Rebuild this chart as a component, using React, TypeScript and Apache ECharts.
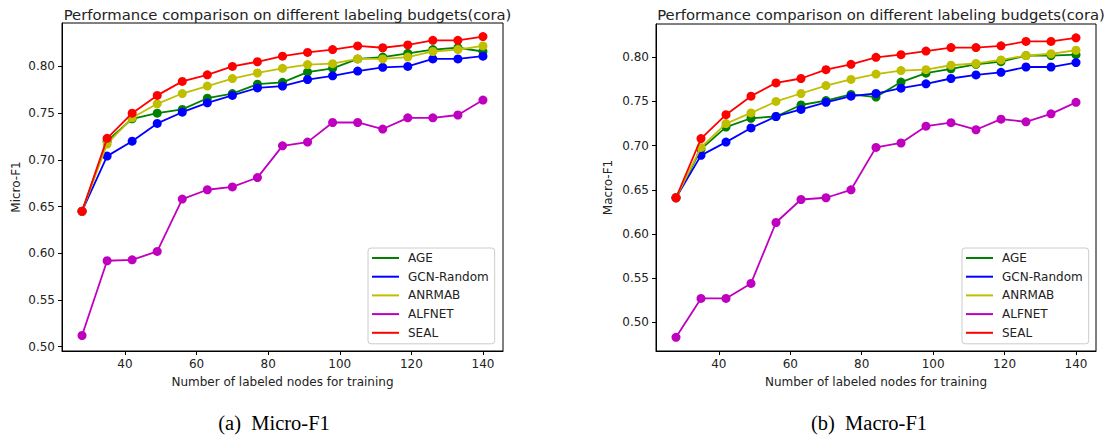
import React, { useEffect, useRef } from "react";
import * as echarts from "echarts";

const budgets = [28, 35, 42, 49, 56, 63, 70, 77, 84, 91, 98, 105, 112, 119, 126, 133, 140];
const seriesNames = ["AGE", "GCN-Random", "ANRMAB", "ALFNET", "SEAL"];
const seriesColors = ["#008000", "#0000ff", "#bfbf00", "#bf00bf", "#ff0000"];

const microAGE = [0.645, 0.720, 0.744, 0.750, 0.754, 0.766, 0.771, 0.781, 0.783, 0.794, 0.798, 0.808, 0.810, 0.814, 0.818, 0.820, 0.816];
const microGCN = [0.645, 0.704, 0.720, 0.739, 0.751, 0.761, 0.769, 0.777, 0.779, 0.786, 0.790, 0.795, 0.799, 0.800, 0.808, 0.808, 0.811];
const microANRMAB = [0.645, 0.717, 0.745, 0.760, 0.771, 0.779, 0.787, 0.793, 0.798, 0.802, 0.803, 0.808, 0.808, 0.810, 0.816, 0.818, 0.822];
const microALFNET = [0.512, 0.592, 0.593, 0.602, 0.658, 0.668, 0.671, 0.681, 0.715, 0.719, 0.740, 0.740, 0.733, 0.745, 0.745, 0.748, 0.764];
const microSEAL = [0.645, 0.723, 0.750, 0.769, 0.784, 0.791, 0.800, 0.805, 0.811, 0.815, 0.818, 0.822, 0.820, 0.823, 0.828, 0.828, 0.832];

const macroAGE = [0.641, 0.696, 0.721, 0.731, 0.733, 0.746, 0.751, 0.758, 0.755, 0.772, 0.782, 0.787, 0.792, 0.795, 0.802, 0.802, 0.803];
const macroGCN = [0.641, 0.689, 0.704, 0.720, 0.733, 0.741, 0.749, 0.756, 0.759, 0.765, 0.770, 0.776, 0.780, 0.783, 0.789, 0.789, 0.794];
const macroANRMAB = [0.641, 0.698, 0.725, 0.737, 0.750, 0.759, 0.768, 0.775, 0.781, 0.785, 0.786, 0.791, 0.793, 0.797, 0.802, 0.804, 0.808];
const macroALFNET = [0.483, 0.527, 0.527, 0.544, 0.613, 0.639, 0.641, 0.650, 0.698, 0.703, 0.722, 0.726, 0.718, 0.730, 0.727, 0.736, 0.749];
const macroSEAL = [0.641, 0.708, 0.735, 0.756, 0.771, 0.776, 0.786, 0.792, 0.800, 0.803, 0.807, 0.811, 0.811, 0.813, 0.818, 0.818, 0.822];

const xTicks = [40, 60, 80, 100, 120, 140];
const yTicks = [0.5, 0.55, 0.6, 0.65, 0.7, 0.75, 0.8];

const chartTitle = "Performance comparison on different labeling budgets(cora)";
const xName = "Number of labeled nodes for training";
const yNames = ["Micro-F1", "Macro-F1"];
const captions = ["(a)  Micro-F1", "(b)  Macro-F1"];

const FONT = "DejaVu Sans";

export default function App() {
  const ref = useRef<HTMLDivElement>(null);
  useEffect(() => {
    if (!ref.current) return;
    const chart = echarts.init(ref.current, null, { renderer: "svg" });
    const micro = [microAGE, microGCN, microANRMAB, microALFNET, microSEAL];
    const macro = [macroAGE, macroGCN, macroANRMAB, macroALFNET, macroSEAL];

    const grids = [
      { left: 62, top: 23, width: 441, height: 328 },
      { left: 656, top: 24, width: 440, height: 327 },
    ];
    const yRanges = [
      [0.4954, 0.8465],
      [0.4675, 0.8377],
    ];

    const xAxes = grids.map((_, i) => ({
      type: "value",
      gridIndex: i,
      min: 22.4,
      max: 145.6,
      name: xName,
      nameLocation: "middle",
      nameGap: 25,
      nameTextStyle: { fontFamily: FONT, fontSize: 12, color: "#222" },
      axisLine: { show: true, lineStyle: { color: "#000", width: 1 } },
      axisTick: { show: true, inside: false, length: 4, customValues: xTicks, lineStyle: { color: "#000" } },
      axisLabel: { customValues: xTicks, margin: 7, fontFamily: FONT, fontSize: 12, color: "#222" },
      splitLine: { show: false },
    }));
    const yAxes = grids.map((_, i) => ({
      type: "value",
      gridIndex: i,
      min: yRanges[i][0],
      max: yRanges[i][1],
      name: yNames[i],
      nameLocation: "middle",
      nameGap: i === 0 ? 40 : 42,
      nameTextStyle: { fontFamily: FONT, fontSize: 12, color: "#222" },
      axisLine: { show: true, lineStyle: { color: "#000", width: 1 } },
      axisTick: { show: true, inside: false, length: 4, customValues: yTicks, lineStyle: { color: "#000" } },
      axisLabel: {
        customValues: yTicks,
        margin: 7,
        fontFamily: FONT,
        fontSize: 12,
        color: "#222",
        formatter: (v: number) => v.toFixed(2),
      },
      splitLine: { show: false },
    }));

    const series: any[] = [];
    [micro, macro].forEach((group, gi) => {
      group.forEach((vals, si) => {
        series.push({
          type: "line",
          name: seriesNames[si],
          xAxisIndex: gi,
          yAxisIndex: gi,
          data: budgets.map((b, k) => [b, vals[k]]),
          symbol: "circle",
          symbolSize: 9,
          showSymbol: true,
          z: 2 + si,
          lineStyle: { color: seriesColors[si], width: 1.8 },
          itemStyle: { color: seriesColors[si] },
          emphasis: { disabled: true },
        });
      });
    });

    const legendBase = {
      orient: "vertical",
      top: 248,
      padding: [3, 6, 4, 4],
      itemGap: 4.7,
      itemWidth: 27,
      itemHeight: 2,
      icon: "rect",
      backgroundColor: "#fff",
      borderColor: "#ccc",
      borderWidth: 1,
      borderRadius: 3,
      selectedMode: false,
      data: seriesNames,
      textStyle: { fontFamily: FONT, fontSize: 12, color: "#222", lineHeight: 14, padding: [0, 0, 0, 4] },
    };

    const captionX = [274, 869];

    chart.setOption({
      animation: false,
      backgroundColor: "#fff",
      title: grids.map((g) => ({
        text: chartTitle,
        left: g.left + g.width / 2,
        textAlign: "center",
        top: 2,
        textStyle: { fontFamily: FONT, fontSize: 14.8, fontWeight: "normal", color: "#222" },
      })),
      grid: grids.map((g) => ({
        ...g,
        show: true,
        borderColor: "#000",
        borderWidth: 1,
        backgroundColor: "transparent",
        containLabel: false,
      })),
      xAxis: xAxes,
      yAxis: yAxes,
      legend: [
        { ...legendBase, left: 368 },
        { ...legendBase, left: 962 },
      ],
      series,
      graphic: captions.map((c, i) => ({
        type: "text",
        x: captionX[i],
        y: 423,
        style: {
          text: c,
          fontFamily: "Liberation Serif",
          fontSize: 20.5,
          fill: "#000",
          textAlign: "center",
          textVerticalAlign: "middle",
        },
      })),
    });
    return () => chart.dispose();
  }, []);
  return (
    <div
      ref={ref}
      style={{ position: "fixed", left: 0, top: 0, width: 1104, height: 438 }}
    />
  );
}
